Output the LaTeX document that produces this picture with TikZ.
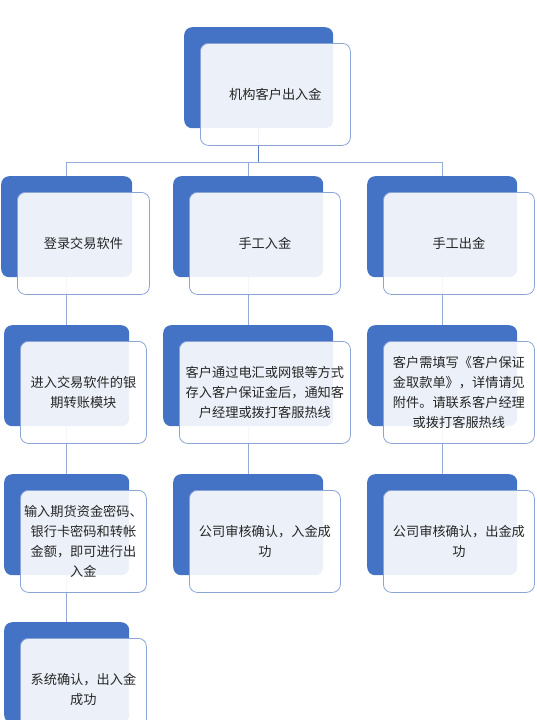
\documentclass[tikz,border=0pt]{standalone}
\usepackage{fontspec}
\newfontfamily\cjk{Noto Sans CJK SC}
\usetikzlibrary{calc}
\pgfdeclarelayer{bg}
\pgfsetlayers{bg,main}
\definecolor{bblue}{HTML}{4472C4}
\definecolor{fborder}{HTML}{8AA4D6}
\definecolor{lconn}{HTML}{95ABD8}
\definecolor{dconn}{HTML}{5A7CC2}
\definecolor{tcol}{HTML}{262626}
\tikzset{
  backbox/.style={fill=bblue, draw=none, rounded corners=8pt, minimum height=101pt, inner sep=0pt},
  frontbox/.style={draw=fborder, line width=0.8pt, fill=white, fill opacity=0.9, text opacity=1,
    rounded corners=8pt, minimum height=102pt, inner sep=0pt, align=center, text=tcol,
    font=\cjk\fontsize{13.2}{20}\selectfont},
  conn/.style={draw=lconn, line width=1.1pt},
  connd/.style={draw=dconn, line width=1.2pt}
}
\newcommand\twinbox[5]{%
  \node[backbox, minimum width=#4pt, anchor=north west] (#1) at (#2,#3) {};
  \node[frontbox, minimum width=#4pt+1pt, anchor=north west] (#1f) at ($(#1.north west)+(16,16)$) {#5};
}
\begin{document}
\begin{tikzpicture}[x=1pt,y=-1pt]
\useasboundingbox (0,0) rectangle (536,720);
\twinbox{t}{184}{27}{149}{机构客户出入金}
\twinbox{a1}{1}{176}{131}{登录交易软件}
\twinbox{b1}{173}{176}{150}{手工入金}
\twinbox{c1}{367}{176}{150}{手工出金}
\twinbox{a2}{4}{325}{125}{进入交易软件的银\\期转账模块}
\twinbox{b2}{163}{325}{170}{客户通过电汇或网银等方式\\存入客户保证金后，通知客\\户经理或拨打客服热线}
\twinbox{c2}{367}{325}{150}{客户需填写《客户保证\\金取款单》，详情请见\\附件。请联系客户经理\\或拨打客服热线}
\twinbox{a3}{4}{474}{125}{输入期货资金密码、\\银行卡密码和转帐\\金额，即可进行出\\入金}
\twinbox{b3}{173}{474}{150}{公司审核确认，入金成\\功}
\twinbox{c3}{367}{474}{150}{公司审核确认，出金成\\功}
\twinbox{a4}{4}{622}{125}{系统确认，出入金\\成功}
\begin{pgfonlayer}{bg}
  \coordinate (j) at ($(t.south)+(0,34)$);
  \draw[conn] (j) -| (a1.north);
  \draw[conn] (j) -| (b1.north);
  \draw[conn] (j) -| (c1.north);
  \draw[connd] (t.south) -- (j);
  \draw[conn] (a1.south) -- (a2.north);
  \draw[conn] (b1.south) -- (b2.north);
  \draw[conn] (c1.south) -- (c2.north);
  \draw[conn] (a2.south) -- (a3.north);
  \draw[conn] (b2.south) -- (b3.north);
  \draw[conn] (c2.south) -- (c3.north);
  \draw[conn] (a3.south) -- (a4.north);
\end{pgfonlayer}
\end{tikzpicture}
\end{document}
